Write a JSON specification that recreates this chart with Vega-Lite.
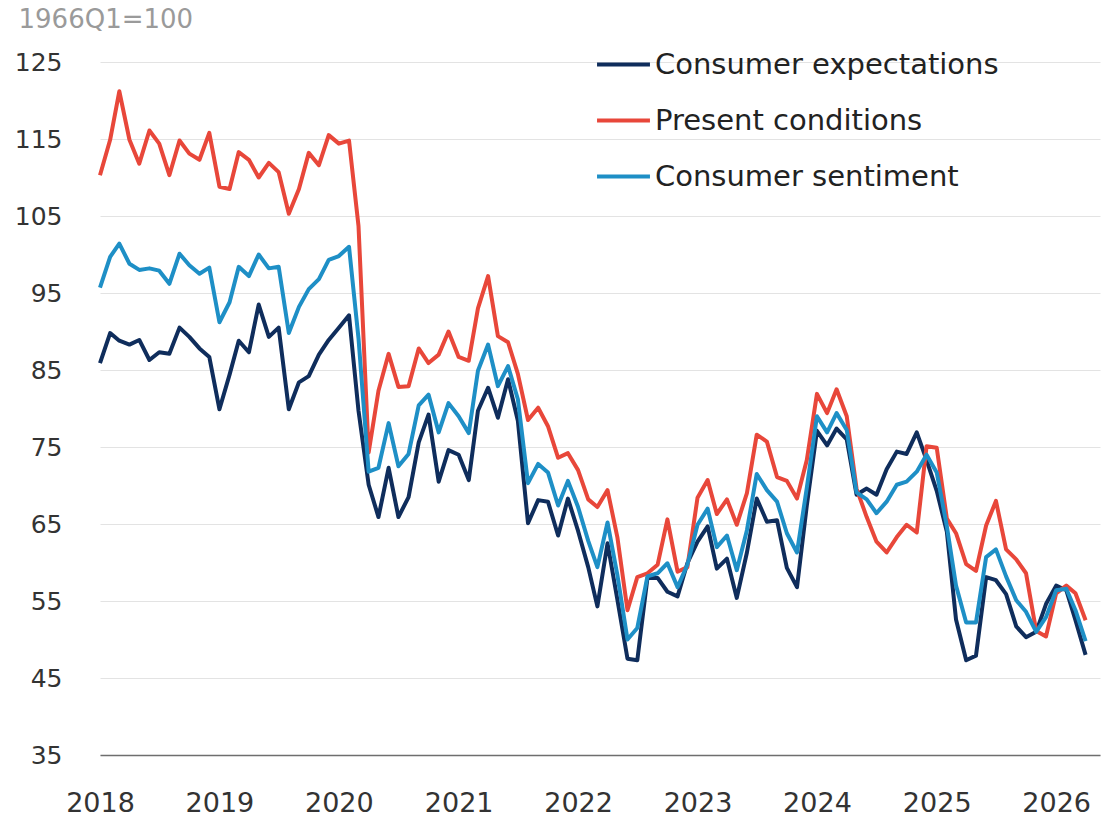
{
  "$schema": "https://vega.github.io/schema/vega-lite/v6.json",
  "width": 1000,
  "height": 693,
  "autosize": {"type": "none"},
  "padding": {"left": 100, "top": 62, "right": 4, "bottom": 67},
  "background": "white",
  "config": {"view": {"stroke": null}, "font": "DejaVu Sans"},
  "data": {"values": [
    {"date": "2018-01-01", "Consumer expectations": 85.9, "Present conditions": 110.3, "Consumer sentiment": 95.7},
    {"date": "2018-02-01", "Consumer expectations": 89.8, "Present conditions": 114.9, "Consumer sentiment": 99.7},
    {"date": "2018-03-01", "Consumer expectations": 88.8, "Present conditions": 121.2, "Consumer sentiment": 101.4},
    {"date": "2018-04-01", "Consumer expectations": 88.3, "Present conditions": 114.9, "Consumer sentiment": 98.8},
    {"date": "2018-05-01", "Consumer expectations": 88.9, "Present conditions": 111.8, "Consumer sentiment": 98.0},
    {"date": "2018-06-01", "Consumer expectations": 86.3, "Present conditions": 116.1, "Consumer sentiment": 98.2},
    {"date": "2018-07-01", "Consumer expectations": 87.3, "Present conditions": 114.4, "Consumer sentiment": 97.9},
    {"date": "2018-08-01", "Consumer expectations": 87.1, "Present conditions": 110.3, "Consumer sentiment": 96.2},
    {"date": "2018-09-01", "Consumer expectations": 90.5, "Present conditions": 114.8, "Consumer sentiment": 100.1},
    {"date": "2018-10-01", "Consumer expectations": 89.3, "Present conditions": 113.1, "Consumer sentiment": 98.6},
    {"date": "2018-11-01", "Consumer expectations": 87.8, "Present conditions": 112.3, "Consumer sentiment": 97.5},
    {"date": "2018-12-01", "Consumer expectations": 86.7, "Present conditions": 115.8, "Consumer sentiment": 98.3},
    {"date": "2019-01-01", "Consumer expectations": 79.9, "Present conditions": 108.8, "Consumer sentiment": 91.2},
    {"date": "2019-02-01", "Consumer expectations": 84.4, "Present conditions": 108.5, "Consumer sentiment": 93.8},
    {"date": "2019-03-01", "Consumer expectations": 88.8, "Present conditions": 113.3, "Consumer sentiment": 98.4},
    {"date": "2019-04-01", "Consumer expectations": 87.3, "Present conditions": 112.3, "Consumer sentiment": 97.2},
    {"date": "2019-05-01", "Consumer expectations": 93.5, "Present conditions": 110.0, "Consumer sentiment": 100.0},
    {"date": "2019-06-01", "Consumer expectations": 89.3, "Present conditions": 111.9, "Consumer sentiment": 98.2},
    {"date": "2019-07-01", "Consumer expectations": 90.5, "Present conditions": 110.7, "Consumer sentiment": 98.4},
    {"date": "2019-08-01", "Consumer expectations": 79.9, "Present conditions": 105.3, "Consumer sentiment": 89.8},
    {"date": "2019-09-01", "Consumer expectations": 83.4, "Present conditions": 108.5, "Consumer sentiment": 93.2},
    {"date": "2019-10-01", "Consumer expectations": 84.2, "Present conditions": 113.2, "Consumer sentiment": 95.5},
    {"date": "2019-11-01", "Consumer expectations": 87.0, "Present conditions": 111.6, "Consumer sentiment": 96.8},
    {"date": "2019-12-01", "Consumer expectations": 88.9, "Present conditions": 115.5, "Consumer sentiment": 99.3},
    {"date": "2020-01-01", "Consumer expectations": 90.5, "Present conditions": 114.4, "Consumer sentiment": 99.8},
    {"date": "2020-02-01", "Consumer expectations": 92.1, "Present conditions": 114.8, "Consumer sentiment": 101.0},
    {"date": "2020-03-01", "Consumer expectations": 79.7, "Present conditions": 103.7, "Consumer sentiment": 89.1},
    {"date": "2020-04-01", "Consumer expectations": 70.1, "Present conditions": 74.3, "Consumer sentiment": 71.8},
    {"date": "2020-05-01", "Consumer expectations": 65.9, "Present conditions": 82.3, "Consumer sentiment": 72.3},
    {"date": "2020-06-01", "Consumer expectations": 72.3, "Present conditions": 87.1, "Consumer sentiment": 78.1},
    {"date": "2020-07-01", "Consumer expectations": 65.9, "Present conditions": 82.8, "Consumer sentiment": 72.5},
    {"date": "2020-08-01", "Consumer expectations": 68.5, "Present conditions": 82.9, "Consumer sentiment": 74.1},
    {"date": "2020-09-01", "Consumer expectations": 75.6, "Present conditions": 87.8, "Consumer sentiment": 80.4},
    {"date": "2020-10-01", "Consumer expectations": 79.2, "Present conditions": 85.9, "Consumer sentiment": 81.8},
    {"date": "2020-11-01", "Consumer expectations": 70.5, "Present conditions": 87.0, "Consumer sentiment": 76.9},
    {"date": "2020-12-01", "Consumer expectations": 74.6, "Present conditions": 90.0, "Consumer sentiment": 80.7},
    {"date": "2021-01-01", "Consumer expectations": 74.0, "Present conditions": 86.7, "Consumer sentiment": 79.0},
    {"date": "2021-02-01", "Consumer expectations": 70.7, "Present conditions": 86.2, "Consumer sentiment": 76.8},
    {"date": "2021-03-01", "Consumer expectations": 79.7, "Present conditions": 93.0, "Consumer sentiment": 84.9},
    {"date": "2021-04-01", "Consumer expectations": 82.7, "Present conditions": 97.2, "Consumer sentiment": 88.3},
    {"date": "2021-05-01", "Consumer expectations": 78.8, "Present conditions": 89.4, "Consumer sentiment": 82.9},
    {"date": "2021-06-01", "Consumer expectations": 83.8, "Present conditions": 88.6, "Consumer sentiment": 85.5},
    {"date": "2021-07-01", "Consumer expectations": 78.4, "Present conditions": 84.5, "Consumer sentiment": 81.2},
    {"date": "2021-08-01", "Consumer expectations": 65.1, "Present conditions": 78.5, "Consumer sentiment": 70.3},
    {"date": "2021-09-01", "Consumer expectations": 68.1, "Present conditions": 80.1, "Consumer sentiment": 72.8},
    {"date": "2021-10-01", "Consumer expectations": 67.9, "Present conditions": 77.7, "Consumer sentiment": 71.7},
    {"date": "2021-11-01", "Consumer expectations": 63.5, "Present conditions": 73.6, "Consumer sentiment": 67.4},
    {"date": "2021-12-01", "Consumer expectations": 68.3, "Present conditions": 74.2, "Consumer sentiment": 70.6},
    {"date": "2022-01-01", "Consumer expectations": 64.1, "Present conditions": 72.0, "Consumer sentiment": 67.2},
    {"date": "2022-02-01", "Consumer expectations": 59.4, "Present conditions": 68.2, "Consumer sentiment": 62.8},
    {"date": "2022-03-01", "Consumer expectations": 54.3, "Present conditions": 67.2, "Consumer sentiment": 59.4},
    {"date": "2022-04-01", "Consumer expectations": 62.5, "Present conditions": 69.4, "Consumer sentiment": 65.2},
    {"date": "2022-05-01", "Consumer expectations": 55.2, "Present conditions": 63.3, "Consumer sentiment": 58.4},
    {"date": "2022-06-01", "Consumer expectations": 47.5, "Present conditions": 53.8, "Consumer sentiment": 50.0},
    {"date": "2022-07-01", "Consumer expectations": 47.3, "Present conditions": 58.1, "Consumer sentiment": 51.5},
    {"date": "2022-08-01", "Consumer expectations": 58.0, "Present conditions": 58.6, "Consumer sentiment": 58.2},
    {"date": "2022-09-01", "Consumer expectations": 58.0, "Present conditions": 59.7, "Consumer sentiment": 58.6},
    {"date": "2022-10-01", "Consumer expectations": 56.2, "Present conditions": 65.6, "Consumer sentiment": 59.9},
    {"date": "2022-11-01", "Consumer expectations": 55.6, "Present conditions": 58.8, "Consumer sentiment": 56.8},
    {"date": "2022-12-01", "Consumer expectations": 59.9, "Present conditions": 59.4, "Consumer sentiment": 59.7},
    {"date": "2023-01-01", "Consumer expectations": 62.7, "Present conditions": 68.4, "Consumer sentiment": 64.9},
    {"date": "2023-02-01", "Consumer expectations": 64.7, "Present conditions": 70.7, "Consumer sentiment": 67.0},
    {"date": "2023-03-01", "Consumer expectations": 59.2, "Present conditions": 66.3, "Consumer sentiment": 62.0},
    {"date": "2023-04-01", "Consumer expectations": 60.5, "Present conditions": 68.2, "Consumer sentiment": 63.5},
    {"date": "2023-05-01", "Consumer expectations": 55.4, "Present conditions": 64.9, "Consumer sentiment": 59.0},
    {"date": "2023-06-01", "Consumer expectations": 61.3, "Present conditions": 69.0, "Consumer sentiment": 64.2},
    {"date": "2023-07-01", "Consumer expectations": 68.3, "Present conditions": 76.6, "Consumer sentiment": 71.5},
    {"date": "2023-08-01", "Consumer expectations": 65.3, "Present conditions": 75.7, "Consumer sentiment": 69.4},
    {"date": "2023-09-01", "Consumer expectations": 65.5, "Present conditions": 71.1, "Consumer sentiment": 67.9},
    {"date": "2023-10-01", "Consumer expectations": 59.3, "Present conditions": 70.6, "Consumer sentiment": 63.8},
    {"date": "2023-11-01", "Consumer expectations": 56.8, "Present conditions": 68.3, "Consumer sentiment": 61.3},
    {"date": "2023-12-01", "Consumer expectations": 67.4, "Present conditions": 73.3, "Consumer sentiment": 69.7},
    {"date": "2024-01-01", "Consumer expectations": 77.1, "Present conditions": 81.9, "Consumer sentiment": 79.0},
    {"date": "2024-02-01", "Consumer expectations": 75.2, "Present conditions": 79.4, "Consumer sentiment": 76.9},
    {"date": "2024-03-01", "Consumer expectations": 77.4, "Present conditions": 82.5, "Consumer sentiment": 79.4},
    {"date": "2024-04-01", "Consumer expectations": 76.0, "Present conditions": 79.0, "Consumer sentiment": 77.2},
    {"date": "2024-05-01", "Consumer expectations": 68.8, "Present conditions": 69.6, "Consumer sentiment": 69.1},
    {"date": "2024-06-01", "Consumer expectations": 69.6, "Present conditions": 65.9, "Consumer sentiment": 68.2},
    {"date": "2024-07-01", "Consumer expectations": 68.8, "Present conditions": 62.7, "Consumer sentiment": 66.4},
    {"date": "2024-08-01", "Consumer expectations": 72.1, "Present conditions": 61.3, "Consumer sentiment": 67.9},
    {"date": "2024-09-01", "Consumer expectations": 74.4, "Present conditions": 63.3, "Consumer sentiment": 70.1},
    {"date": "2024-10-01", "Consumer expectations": 74.1, "Present conditions": 64.9, "Consumer sentiment": 70.5},
    {"date": "2024-11-01", "Consumer expectations": 76.9, "Present conditions": 63.9, "Consumer sentiment": 71.8},
    {"date": "2024-12-01", "Consumer expectations": 73.3, "Present conditions": 75.1, "Consumer sentiment": 74.0},
    {"date": "2025-01-01", "Consumer expectations": 69.3, "Present conditions": 74.9, "Consumer sentiment": 71.7},
    {"date": "2025-02-01", "Consumer expectations": 64.0, "Present conditions": 65.7, "Consumer sentiment": 64.7},
    {"date": "2025-03-01", "Consumer expectations": 52.6, "Present conditions": 63.8, "Consumer sentiment": 57.0},
    {"date": "2025-04-01", "Consumer expectations": 47.3, "Present conditions": 59.8, "Consumer sentiment": 52.2},
    {"date": "2025-05-01", "Consumer expectations": 47.9, "Present conditions": 58.9, "Consumer sentiment": 52.2},
    {"date": "2025-06-01", "Consumer expectations": 58.1, "Present conditions": 64.8, "Consumer sentiment": 60.7},
    {"date": "2025-07-01", "Consumer expectations": 57.7, "Present conditions": 68.0, "Consumer sentiment": 61.7},
    {"date": "2025-08-01", "Consumer expectations": 55.9, "Present conditions": 61.7, "Consumer sentiment": 58.2},
    {"date": "2025-09-01", "Consumer expectations": 51.7, "Present conditions": 60.4, "Consumer sentiment": 55.1},
    {"date": "2025-10-01", "Consumer expectations": 50.3, "Present conditions": 58.6, "Consumer sentiment": 53.6},
    {"date": "2025-11-01", "Consumer expectations": 51.0, "Present conditions": 51.1, "Consumer sentiment": 51.0},
    {"date": "2025-12-01", "Consumer expectations": 54.6, "Present conditions": 50.4, "Consumer sentiment": 52.9},
    {"date": "2026-01-01", "Consumer expectations": 57.0, "Present conditions": 56.0, "Consumer sentiment": 56.4},
    {"date": "2026-02-01", "Consumer expectations": 56.4, "Present conditions": 57.0, "Consumer sentiment": 56.6},
    {"date": "2026-03-01", "Consumer expectations": 52.5, "Present conditions": 56.0, "Consumer sentiment": 53.8},
    {"date": "2026-04-01", "Consumer expectations": 48.0, "Present conditions": 52.5, "Consumer sentiment": 49.8}
  ]},
  "transform": [
    {"fold": ["Consumer expectations", "Present conditions", "Consumer sentiment"], "as": ["series", "value"]}
  ],
  "mark": {"type": "line", "strokeWidth": 4, "strokeJoin": "round"},
  "encoding": {
    "x": {
      "field": "date", "type": "temporal",
      "scale": {"domain": [{"year": 2018, "month": 1, "date": 1}, {"year": 2026, "month": 5, "date": 15}]},
      "axis": {"title": null, "format": "%Y", "tickCount": {"interval": "year", "step": 1}, "grid": false, "ticks": false,
        "domain": true, "domainColor": "#6e6e6e", "domainWidth": 1.5,
        "labelFontSize": 27, "labelColor": "#333333", "labelPadding": 35, "labelFlush": false, "labelOverlap": false}
    },
    "y": {
      "field": "value", "type": "quantitative",
      "scale": {"domain": [35, 125], "nice": false, "zero": false},
      "axis": {"values": [35, 45, 55, 65, 75, 85, 95, 105, 115, 125],
        "title": "1966Q1=100", "titleAngle": 0, "titleAlign": "left", "titleBaseline": "middle",
        "titleX": -82, "titleY": -43, "titleFontSize": 26, "titleFontWeight": "normal", "titleColor": "#9a9a9a",
        "labelFontSize": 25, "labelColor": "#333333", "labelPadding": 38,
        "domain": false, "ticks": false, "grid": true, "gridColor": "#e3e3e3", "gridWidth": 1}
    },
    "color": {
      "field": "series", "type": "nominal",
      "scale": {"domain": ["Consumer expectations", "Present conditions", "Consumer sentiment"], "range": ["#0f2d5c", "#e8473a", "#1e8fc6"]},
      "legend": {"title": null, "orient": "none", "legendX": 495, "legendY": -26, "direction": "vertical",
        "symbolType": "stroke", "symbolSize": 2800, "symbolStrokeWidth": 4,
        "labelFontSize": 29, "labelColor": "#222222", "labelOffset": 3, "labelLimit": 600, "rowPadding": 12}
    }
  }
}
